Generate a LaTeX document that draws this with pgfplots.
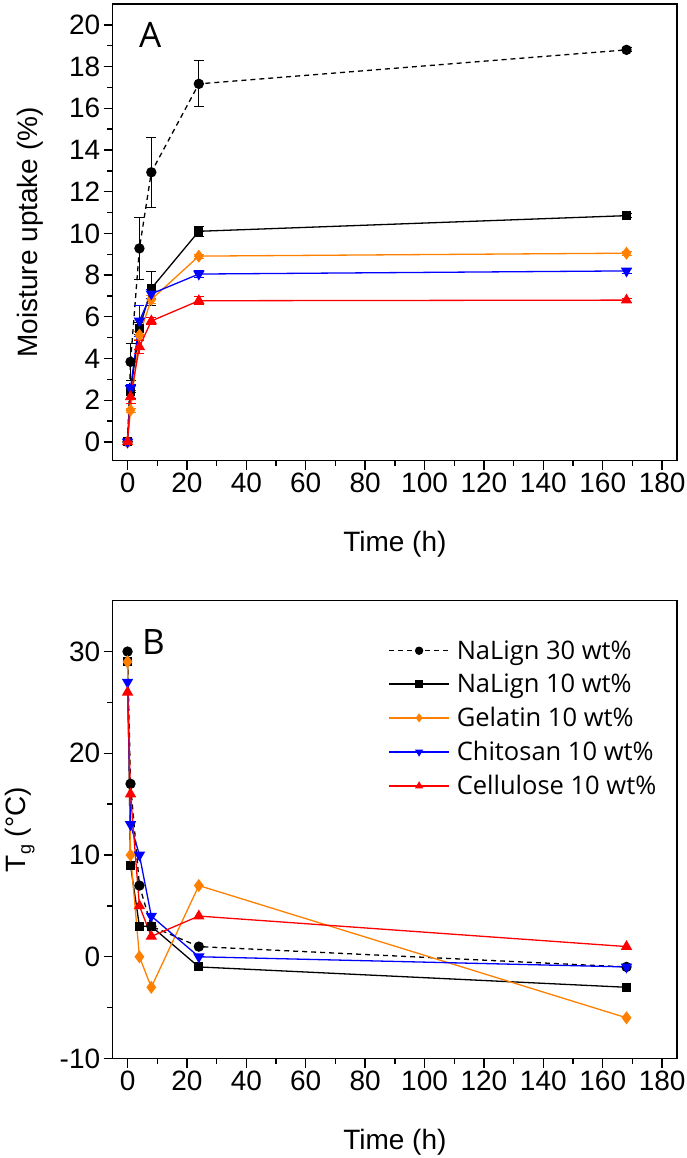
\documentclass[border=0pt]{standalone}
\usepackage{pgfplots}
\pgfplotsset{compat=1.18}
\usepackage{fontspec}
\setmainfont{Liberation Sans}
\newfontfamily\osans{Open Sans}
\definecolor{myorange}{RGB}{255,128,0}
\pgfplotsset{
 mystyle/.style={
  scale only axis, width=564.3pt,
  xmin=-5, xmax=185, xtick={0,20,...,180}, minor x tick num=1,
  minor y tick num=1,
  axis line style={line width=1.4pt},
  every tick/.style={line width=1.4pt, black},
  major tick length=9pt, minor tick length=5.5pt,
  tick align=outside, xtick pos=bottom, ytick pos=left,
  tick label style={font=\fontsize{28}{33}\selectfont},
  /pgf/number format/assume math mode=true,
  label style={font=\fontsize{28}{33}\selectfont},
  xlabel={Time (h)},
  xlabel style={at={(axis description cs:0.5,0)}, anchor=base, yshift=-91pt},
  every axis plot/.append style={line width=1.3pt},
  legend image code/.code={\draw[mark repeat=2,mark phase=2,line width=1.3pt,#1] plot coordinates {(0pt,0pt)(30pt,0pt)(60pt,0pt)};},
 },
 s30/.style={black, dash pattern=on 5pt off 4pt, mark=*, mark size=4.5pt, mark options={solid}},
 s10/.style={black, mark=square*, mark size=3.8pt, mark options={solid}},
 sgel/.style={myorange, mark=diamond*, mark size=5.5pt, mark options={solid}},
 schi/.style={blue, mark=triangle*, mark size=5.3pt, mark options={solid, rotate=180}},
 scel/.style={red, mark=triangle*, mark size=5.3pt, mark options={solid}},
 eb/.style={error bars/.cd, y dir=both, y explicit, error bar style={solid, line width=0.9pt}, error mark options={solid, rotate=90, mark size=5pt, line width=0.9pt}},
}
\begin{document}
\begin{tikzpicture}
\path[use as bounding box] (0pt,0pt) rectangle (687pt,1158pt);
% Panel A
\begin{axis}[mystyle, at={(112.7pt,697.3pt)}, anchor=south west, height=456.7pt,
  ymin=-0.9, ymax=21, ytick={0,2,...,20},
  ylabel={Moisture uptake (\%)},
  ylabel style={at={(axis description cs:-0.1324,0.5)}, anchor=base},
]
\addplot+[s30, eb] coordinates {(0,0) +- (0,0) (1,3.84) +- (0,0.9) (4,9.28) +- (0,1.49) (8,12.93) +- (0,1.68) (24,17.17) +- (0,1.1) (168,18.8) +- (0,0.1)};
\addplot+[s10, eb] coordinates {(0,0) +- (0,0) (1,2.4) +- (0,0.3) (4,5.44) +- (0,0.3) (8,7.36) +- (0,0.8) (24,10.1) +- (0,0.25) (168,10.85) +- (0,0.1)};
\addplot+[sgel, eb] coordinates {(0,0) +- (0,0) (1,1.52) +- (0,0.1) (4,5.12) +- (0,0.2) (8,6.83) +- (0,0.2) (24,8.91) +- (0,0.1) (168,9.05) +- (0,0.1)};
\addplot+[schi, eb] coordinates {(0,0) +- (0,0) (1,2.56) +- (0,0.2) (4,5.8) +- (0,0.75) (8,7.1) +- (0,0.2) (24,8.05) +- (0,0.15) (168,8.2) +- (0,0.1)};
\addplot+[scel, eb] coordinates {(0,0) +- (0,0) (1,2.16) +- (0,0.3) (4,4.56) +- (0,0.3) (8,5.8) +- (0,0.15) (24,6.77) +- (0,0.2) (168,6.8) +- (0,0.1)};
\node[anchor=base west, font=\osans\fontsize{35}{40}\selectfont, inner sep=0pt] at (rel axis cs:0.0466,0.9037) {A};
\end{axis}
% Panel B
\begin{axis}[mystyle, at={(112.7pt,99.5pt)}, anchor=south west, height=457.8pt,
  ymin=-10, ymax=35, ytick={-10,0,10,20,30},
  ylabel={T\raisebox{-0.4ex}{\fontsize{18}{20}\selectfont g} (°C)},
  ylabel style={at={(axis description cs:-0.1554,0.5)}, anchor=base},
  legend style={at={(0.483,0.922)}, anchor=north west, draw=none, fill=none,
    font=\osans\fontsize{25.5}{30}\selectfont, row sep=9.2pt,
    /tikz/every odd column/.append style={column sep=5pt}},
  legend cell align=left,
  legend image post style={mark size=3.5pt},
]
\addplot+[s30] coordinates {(0,30) (1,17) (4,7) (8,3) (24,1) (168,-1)};
\addplot+[s10] coordinates {(0,29) (1,9) (4,3) (8,3) (24,-1) (168,-3)};
\addplot+[sgel] coordinates {(0,29) (1,10) (4,0) (8,-3) (24,7) (168,-6)};
\addplot+[schi] coordinates {(0,27) (1,13) (4,10) (8,4) (24,0) (168,-1)};
\addplot+[scel] coordinates {(0,26) (1,16) (4,5) (8,2) (24,4) (168,1)};
\legend{NaLign 30 wt\%, NaLign 10 wt\%, Gelatin 10 wt\%, Chitosan 10 wt\%, Cellulose 10 wt\%}
\node[anchor=base west, font=\osans\fontsize{35}{40}\selectfont, inner sep=0pt] at (rel axis cs:0.052,0.8814) {B};
\end{axis}
\end{tikzpicture}
\end{document}
